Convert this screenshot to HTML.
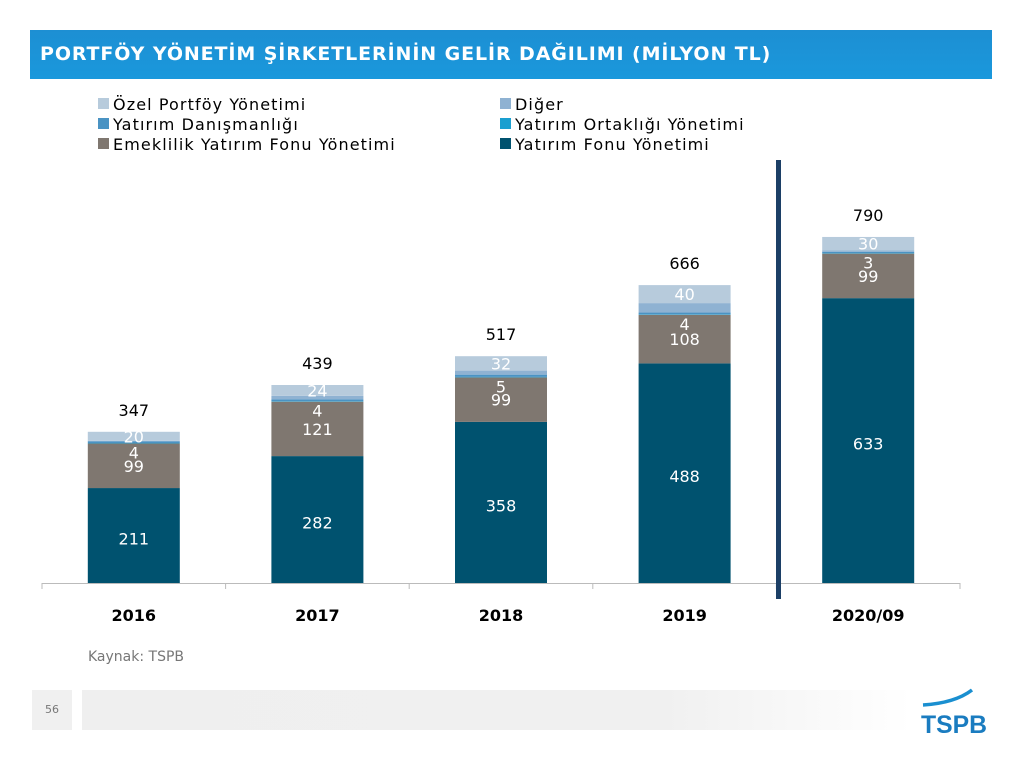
<!DOCTYPE html>
<html><head><meta charset="utf-8"><style>
body{margin:0;width:1024px;height:768px;background:#fff;overflow:hidden;position:relative;font-family:"DejaVu Sans","Liberation Sans",sans-serif}
#title{position:absolute;left:30px;top:30px;width:962px;height:49px;background:linear-gradient(#1d8fd3,#1a98dc);color:#fff;font-weight:bold;font-size:19px;line-height:49px;padding-left:10px;box-sizing:border-box;letter-spacing:0.9px}
</style></head><body>
<div id="title">PORTFÖY YÖNETİM ŞİRKETLERİNİN GELİR DAĞILIMI (MİLYON TL)</div>
<svg id="chart" width="1024" height="768" style="position:absolute;left:0;top:0" font-family="DejaVu Sans, Liberation Sans, sans-serif"></svg>
<script>
const categories=["2016","2017","2018","2019","2020/09"];
const seriesNames=["Yatırım Fonu Yönetimi","Emeklilik Yatırım Fonu Yönetimi","Yatırım Ortaklığı Yönetimi","Yatırım Danışmanlığı","Diğer","Özel Portföy Yönetimi"];
const yatirimFonu=[211,282,358,488,633];
const emeklilik=[99,121,99,108,99];
const ortaklik=[1,1,1,1,1];
const danismanlik=[4,4,5,4,3];
const diger=[1,8,9,21,3];
const ozel=[20,24,32,40,30];
const totals=[347,439,517,666,790];
const colors=["#00526f","#7f7770","#1a9fd0","#4a93c3","#8fb2d2","#b7cbdc"];
const series=[yatirimFonu,emeklilik,ortaklik,danismanlik,diger,ozel];

const NS="http://www.w3.org/2000/svg";
const svg=document.getElementById('chart');
const base=583, scale=0.45, x0=42, step=183.6, bw=92;
const y=v=>base-v*scale;
const xc=i=>x0+step*(i+0.5);
function mk(tag,attrs,txt){const e=document.createElementNS(NS,tag);for(const k in attrs)e.setAttribute(k,attrs[k]);if(txt!==undefined)e.textContent=txt;svg.appendChild(e);return e;}

const legPos=[[98,104,5],[500,104,4],[98,124,3],[500,124,2],[98,144,1],[500,144,0]];
legPos.forEach(([lx,ly,s])=>{
  let r=mk('rect',{x:lx,y:ly-6,width:11,height:11,fill:colors[s]});
  
  
  let t=mk('text',{x:lx+15,y:ly+6,'font-size':16,'letter-spacing':1.1,fill:'#000'},seriesNames[s]);
  
  
});

let ax=mk('line',{x1:x0,y1:base+0.5,x2:x0+step*5,y2:base+0.5,stroke:'#bbb','stroke-width':1});


for(let i=0;i<=5;i++){
  let tk=mk('line',{x1:x0+step*i,y1:base,x2:x0+step*i,y2:base+6,stroke:'#bbb'});
  
  
}

categories.forEach((c,i)=>{
  let acc=0; const left=xc(i)-bw/2;
  const segTops=[];
  series.forEach((arr,s)=>{
    const v=arr[i];
    let r=mk('rect',{x:left,y:y(acc+v),width:bw,height:v*scale,fill:colors[s]});
    
    
    segTops.push([y(acc+v),y(acc)]);
    acc+=v;
  });
  const lbl=(s,ty)=>{let t=mk('text',{x:xc(i),y:ty,'font-size':16,fill:'#fff','text-anchor':'middle'},String(series[s][i]));
    
    };
  lbl(0,(segTops[0][0]+segTops[0][1])/2+9);
  lbl(1,(segTops[1][0]+segTops[1][1])/2+6);
  lbl(3,segTops[1][0]+15);
  lbl(5,(segTops[5][0]+segTops[5][1])/2+6);
  let tt=mk('text',{x:xc(i),y:y(acc)-16,'font-size':16,fill:'#000','text-anchor':'middle'},String(totals[i]));
  
  
  let cl=mk('text',{x:xc(i),y:621,'font-size':16,'font-weight':'bold',fill:'#000','text-anchor':'middle'},c);
  
  
});

let dv=mk('rect',{x:776,y:160,width:5,height:439,fill:'#1c3f66'});



let src=mk('text',{x:88,y:661,'font-size':14,fill:'#777'},'Kaynak: TSPB');


</script>
<div style="position:absolute;left:32px;top:690px;width:40px;height:40px;background:#f0f0f0;color:#777;font-size:11px;line-height:40px;text-align:center">56</div>
<div style="position:absolute;left:82px;top:690px;width:830px;height:40px;background:linear-gradient(90deg,#efefef 0%,#f0f0f0 70%,#fff 100%)"></div>
<svg style="position:absolute;left:915px;top:685px" width="80" height="52">
<path d="M8 20 Q40 18 57 5" stroke="#1a8fd0" stroke-width="3.5" fill="none"/>
<text x="6" y="48" font-family="Liberation Sans, sans-serif" font-weight="bold" font-size="25" textLength="66" lengthAdjust="spacingAndGlyphs" fill="#1a7cc0">TSPB</text>
</svg>
</body></html>
